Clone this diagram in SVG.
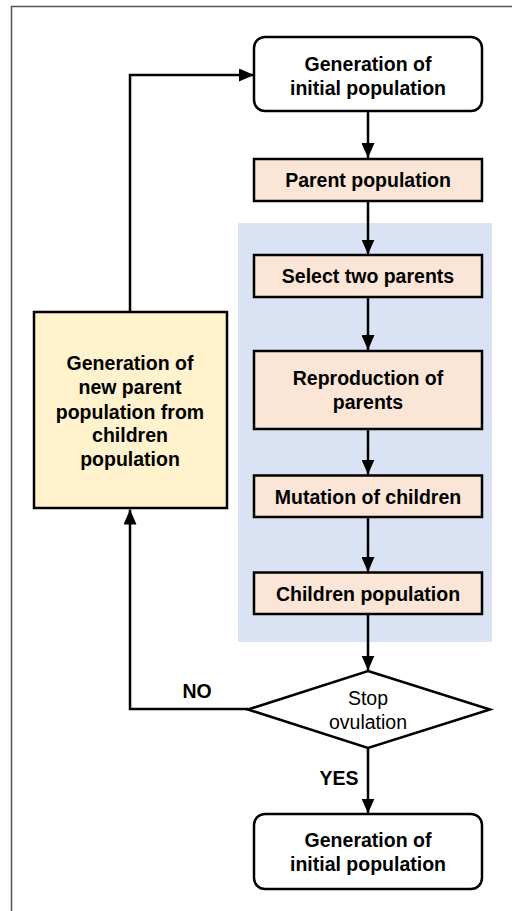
<svg xmlns="http://www.w3.org/2000/svg" width="512" height="911" viewBox="0 0 512 911">
  <style>
    .lbl { font-family: "Liberation Sans", Arial, sans-serif; font-size: 19.5px; font-weight: bold; fill: #000; text-anchor: middle; }
    .reg { font-family: "Liberation Sans", Arial, sans-serif; font-size: 19.5px; fill: #000; text-anchor: middle; }
    .term { fill: #fff; stroke: #000; stroke-width: 2.5; }
    .step { fill: #fbe5d6; stroke: #000; stroke-width: 2.5; }
    .gen { fill: #fff2cc; stroke: #000; stroke-width: 2.5; }
    .wire { fill: none; stroke: #000; stroke-width: 2.5; }
  </style>
  <defs>
    <marker id="arrow" viewBox="0 0 15 13" refX="15" refY="6.5" markerWidth="15" markerHeight="13" markerUnits="userSpaceOnUse" orient="auto">
      <path d="M0,0 L15,6.5 L0,13 Z" fill="#000"/>
    </marker>
  </defs>

  <rect width="512" height="911" fill="#fff"/>
  <!-- outer frame -->
  <path d="M11.5,911 V6.5 H512" fill="none" stroke="#555" stroke-width="1.5"/>

  <!-- background region for the reproduction loop -->
  <rect id="loop-region" x="238" y="223" width="254" height="419" fill="#dae3f3"/>

  <g id="connectors">
    <line class="wire" x1="368" y1="111" x2="368" y2="158" marker-end="url(#arrow)"/>
    <line class="wire" x1="368" y1="201" x2="368" y2="254.5" marker-end="url(#arrow)"/>
    <line class="wire" x1="368" y1="297" x2="368" y2="350" marker-end="url(#arrow)"/>
    <line class="wire" x1="368" y1="429" x2="368" y2="474.5" marker-end="url(#arrow)"/>
    <line class="wire" x1="368" y1="517" x2="368" y2="572" marker-end="url(#arrow)"/>
    <line class="wire" x1="368" y1="614" x2="368" y2="670.5" marker-end="url(#arrow)"/>
    <line class="wire" x1="368" y1="748" x2="368" y2="813.5" marker-end="url(#arrow)"/>
    <polyline class="wire" points="248,709 130,709 130,509.5" marker-end="url(#arrow)"/>
    <polyline class="wire" points="130,312 130,75 254,75" marker-end="url(#arrow)"/>
    <text class="lbl" x="197" y="698">NO</text>
    <text class="lbl" x="339" y="785">YES</text>
  </g>

  <g id="start">
    <rect class="term" x="254" y="37" width="228" height="74" rx="11"/>
    <text class="lbl" x="368" y="70.5">Generation of</text>
    <text class="lbl" x="368" y="94.5">initial population</text>
  </g>

  <g id="parent-population">
    <rect class="step" x="254" y="159" width="228" height="42"/>
    <text class="lbl" x="368" y="187">Parent population</text>
  </g>

  <g id="select-parents">
    <rect class="step" x="254" y="255" width="228" height="42"/>
    <text class="lbl" x="368" y="283">Select two parents</text>
  </g>

  <g id="reproduction">
    <rect class="step" x="254" y="351" width="228" height="78"/>
    <text class="lbl" x="368" y="385">Reproduction of</text>
    <text class="lbl" x="368" y="409">parents</text>
  </g>

  <g id="mutation">
    <rect class="step" x="254" y="475.5" width="228" height="41.5"/>
    <text class="lbl" x="368" y="503.5">Mutation of children</text>
  </g>

  <g id="children-population">
    <rect class="step" x="254" y="572.5" width="228" height="41.5"/>
    <text class="lbl" x="368" y="601">Children population</text>
  </g>

  <g id="new-parent-population">
    <rect class="gen" x="34" y="312" width="193" height="196"/>
    <text class="lbl" x="130" y="369.5">Generation of</text>
    <text class="lbl" x="130" y="394">new parent</text>
    <text class="lbl" x="130" y="418.5">population from</text>
    <text class="lbl" x="130" y="442">children</text>
    <text class="lbl" x="130" y="466">population</text>
  </g>

  <g id="stop-check">
    <polygon class="term" points="368,671 490,709.5 368,748 248,709.5"/>
    <text class="reg" x="368" y="705">Stop</text>
    <text class="reg" x="368" y="728.5">ovulation</text>
  </g>

  <g id="end">
    <rect class="term" x="254" y="814" width="228" height="75" rx="11"/>
    <text class="lbl" x="368" y="847">Generation of</text>
    <text class="lbl" x="368" y="871">initial population</text>
  </g>
</svg>
